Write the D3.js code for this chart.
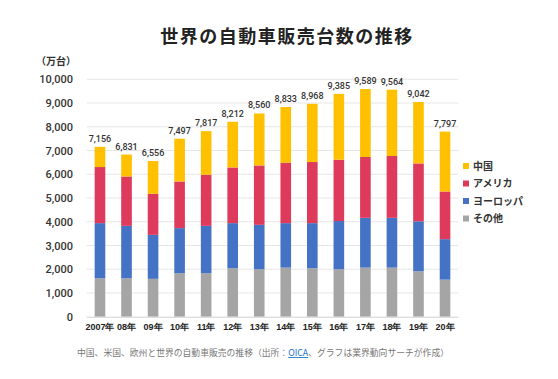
<!DOCTYPE html>
<html><head><meta charset="utf-8">
<script src="https://cdn.jsdelivr.net/npm/d3@7"></script>
<style>
body{margin:0;background:#fff;}
svg{display:block;font-family:"Noto Sans CJK JP","Noto Sans",sans-serif;}
</style></head>
<body><svg id="c" width="558" height="379"></svg>
<script>
const years = ["2007年","08年","09年","10年","11年","12年","13年","14年","15年","16年","17年","18年","19年","20年"];
const other  = [1620,1620,1595,1831,1831,2042,2000,2068,2042,2000,2068,2068,1916,1561];
const europe = [2321,2207,1852,1899,1996,1899,1869,1873,1899,2030,2097,2097,2101,1705];
const america= [2363,2080,1730,1966,2152,2346,2502,2544,2574,2582,2561,2603,2439,2008];
const totals = [7156,6831,6556,7497,7817,8212,8560,8833,8968,9385,9589,9564,9042,7797];
const china = totals.map((t,i)=>t-other[i]-europe[i]-america[i]);
const seriesNames = ["その他","ヨーロッパ","アメリカ","中国"];
const seriesColors = ["#A5A5A5","#4472C4","#DE3A5B","#FFC000"];
const yTicks = [0,1000,2000,3000,4000,5000,6000,7000,8000,9000,10000];

const svg = d3.select("#c");
const x = d3.scaleBand().domain(years).range([86.7,458.3]).paddingInner(0.6).paddingOuter(0.3);
const y = d3.scaleLinear().domain([0,10000]).range([316.7,79.3]);

// title
svg.append("text").attr("x",287).attr("y",43).attr("text-anchor","middle")
  .attr("font-size",18).attr("font-weight",600).attr("letter-spacing",1.5).attr("fill","#222")
  .text("世界の自動車販売台数の推移");

// grid
svg.append("g").selectAll("line").data(yTicks.slice(1)).join("line")
  .attr("x1",86.7).attr("x2",458.3).attr("y1",d=>y(d)).attr("y2",d=>y(d))
  .attr("stroke","#e6e6e6").attr("stroke-width",1);

// y axis labels
const yAxis = d3.axisLeft(y).tickValues(yTicks).tickSize(0).tickPadding(0).tickFormat(d3.format(","));
const ya = svg.append("g").attr("transform","translate(73,0)").call(yAxis);
ya.select(".domain").remove();
ya.selectAll("text").attr("font-size",11).attr("fill","#333").attr("font-family","Roboto,'Noto Sans',sans-serif").attr("font-weight",500);
svg.append("text").attr("x",36).attr("y",65).attr("font-size",10).attr("font-weight","bold").attr("fill","#333").text("（万台）");

// stacked bars
const rows = years.map((yr,i)=>({yr, その他:other[i], ヨーロッパ:europe[i], アメリカ:america[i], 中国:china[i]}));
const stack = d3.stack().keys(seriesNames)(rows);
svg.append("g").selectAll("g").data(stack).join("g").attr("fill",(d,i)=>seriesColors[i])
  .selectAll("rect").data(d=>d).join("rect")
  .attr("x",d=>x(d.data.yr)).attr("width",x.bandwidth())
  .attr("y",d=>y(d[1])).attr("height",d=>y(d[0])-y(d[1]));

// baseline
svg.append("line").attr("x1",86.7).attr("x2",458.3).attr("y1",y(0)+0.5).attr("y2",y(0)+0.5).attr("stroke","#d0d0d0");

// totals
svg.append("g").selectAll("text").data(totals).join("text")
  .attr("x",(d,i)=>x(years[i])+x.bandwidth()/2).attr("y",d=>y(d)-5)
  .attr("text-anchor","middle").attr("font-size",9).attr("fill","#333")
  .attr("font-family","Roboto,'Noto Sans',sans-serif").attr("font-weight",500)
  .text(d=>d3.format(",")(d));

// x axis
const xa = svg.append("g").attr("transform",`translate(0,${y(0)})`).call(d3.axisBottom(x).tickSize(0).tickPadding(7));
xa.select(".domain").remove();
xa.selectAll("text").attr("font-size",9).attr("fill","#222").attr("font-weight","bold");

// legend
const leg = svg.append("g").selectAll("g").data(seriesNames.slice().reverse()).join("g")
  .attr("transform",(d,i)=>`translate(463,${166+i*17.5})`);
leg.append("rect").attr("x",0).attr("y",-3).attr("width",6).attr("height",6)
  .attr("fill",d=>seriesColors[seriesNames.indexOf(d)]);
leg.append("text").attr("x",10).attr("y",3.5).attr("font-size",10).attr("font-weight","bold").attr("fill","#333").text(d=>d);

// footer
const ft = svg.append("text").attr("x",263).attr("y",356).attr("text-anchor","middle").attr("font-size",8.8).attr("fill","#777");
ft.append("tspan").text("中国、米国、欧州と世界の自動車販売の推移（出所：");
ft.append("tspan").attr("fill","#1a73c8").attr("text-decoration","underline").text("OICA");
ft.append("tspan").text("、グラフは業界動向サーチが作成）");
</script></body></html>
